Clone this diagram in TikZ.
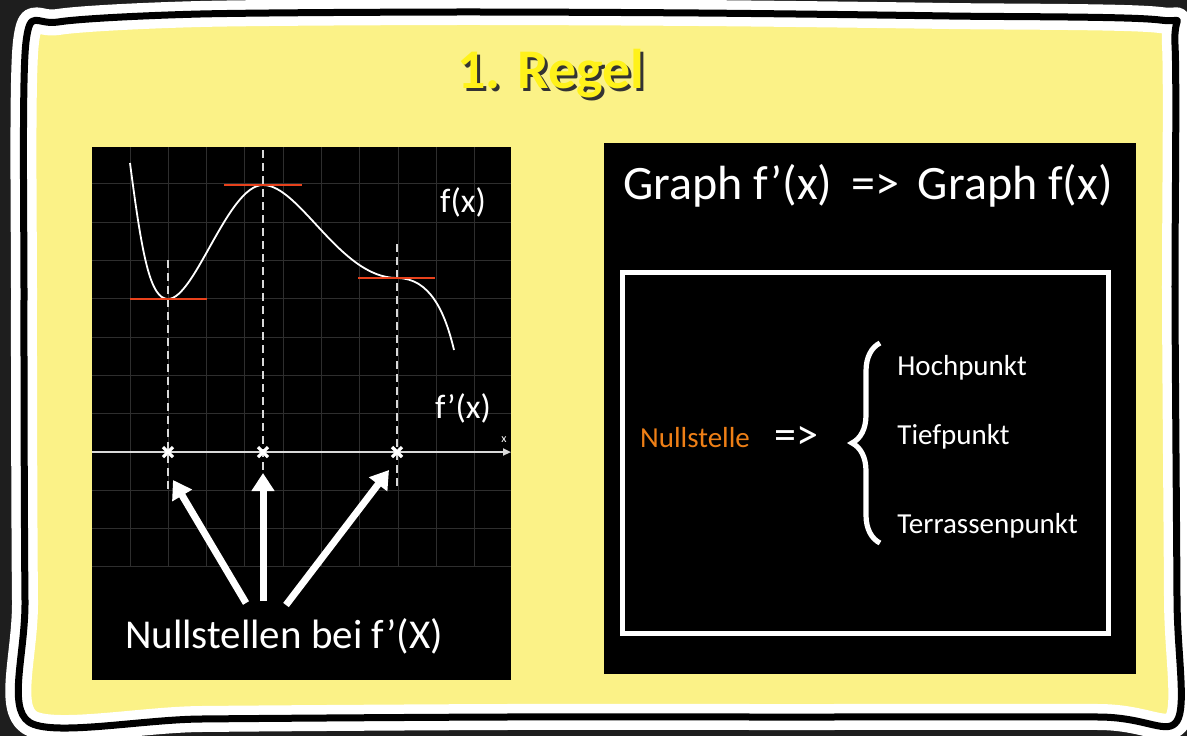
\documentclass[tikz,border=0pt]{standalone}
\usepackage{fontspec}
\setmainfont{Carlito}
\usetikzlibrary{arrows.meta,positioning,decorations.pathreplacing,calc}
\usepackage{xcolor}
\definecolor{paper}{HTML}{FBF287}
\definecolor{outside}{HTML}{1E1E1E}
\definecolor{titleyel}{HTML}{FFF21A}
\definecolor{tangred}{HTML}{E8421C}
\definecolor{nullorange}{HTML}{EE7F16}
\definecolor{gridgray}{HTML}{2E2E2E}
\tikzset{
  chalk/.style={text=white, inner sep=0pt},
  bigtext/.style={chalk, font=\fontsize{24}{28}\selectfont},
  labeltext/.style={chalk, font=\fontsize{20.5}{24}\selectfont},
  functext/.style={chalk, font=\fontsize{17}{20}\selectfont},
  listtext/.style={chalk, font=\fontsize{14.5}{17}\selectfont, anchor=west},
  gridline/.style={draw=gridgray, line width=0.5pt},
  tangent/.style={draw=tangred, line width=1.4pt},
  guide/.style={draw=white!85!black, line width=0.8pt, dash pattern=on 4pt off 2.5pt},
  cross/.style={draw=white, line width=1.6pt},
  pointer/.style={-{Triangle[length=9pt,width=11pt]}, draw=white, line width=3.5pt},
  axis/.style={-{Triangle[length=4pt,width=3.5pt]}, draw=white!85!black, line width=1pt}
}

\begin{document}
\begin{tikzpicture}[x=0.5pt, y=-0.5pt]
  \useasboundingbox (0,0) rectangle (1187,736);
  \fill[outside] (0,0) rectangle (1187,736);

  % sketchy frame
  \def\framepath{plot[smooth cycle, tension=0.45] coordinates {(26,42) (58,22) (200,14) (450,12) (700,13) (950,16) (1160,20) (1175,45) (1175,300) (1177,600) (1177,721) (1100,717) (800,717) (500,717) (200,719) (29,722) (25,600) (24,300)}}
  \fill[paper] \framepath;
  \draw[white, line width=13pt, line join=round] \framepath;
  \draw[black, line width=3.5pt, line join=round] \framepath;

  % title
  \node[font=\fontsize{28}{32}\selectfont\bfseries, text=black!80, inner sep=0pt] (titleshadow) at (554,77) {1. Regel};
  \node[font=\fontsize{28}{32}\selectfont\bfseries, text=titleyel, inner sep=0pt] (title) at (551,74) {1. Regel};

  % left board with graph
  \fill[black] (92,147) rectangle (511,680);
  \foreach \gx in {0,...,9}
    \draw[gridline] ({130+38.3*\gx},147) -- ({130+38.3*\gx},567);
  \foreach \gy in {-3,...,7}
    \draw[gridline] (92,{452-38.3*\gy}) -- (511,{452-38.3*\gy});

  \coordinate (z1) at (168,452);
  \coordinate (z2) at (263,452);
  \coordinate (z3) at (397,452);

  \draw[guide] (168,260) -- (168,490);
  \draw[guide] (263,150) -- (263,490);
  \draw[guide] (397,244) -- (397,490);

  \draw[white, line width=0.9pt] (130,163) .. controls (142,255) and (150,299) .. (168,299)
    .. controls (195,299) and (228,185) .. (263,185)
    .. controls (300,185) and (340,278) .. (397,278)
    .. controls (430,278) and (445,312) .. (454,350);

  \draw[tangent] (130,299) -- (207,299);
  \draw[tangent] (224,185) -- (302,185);
  \draw[tangent] (358,278) -- (435,278);

  \draw[axis] (92,452) -- (511,452);
  \node[chalk, font=\fontsize{6}{7}\selectfont] (xlab) at (504,440) {x};

  \foreach \z in {z1,z2,z3}
    \draw[cross] ($(\z)+(-5,-5)$) -- ($(\z)+(5,5)$) ($(\z)+(-5,5)$) -- ($(\z)+(5,-5)$);

  \node[functext] (fx) at (463,202) {f(x)};
  \node[functext] (dfx) at (463,408) {f'(x)};

  \node[labeltext] (nst) at (284,636) {Nullstellen bei f'(X)};
  \coordinate (t1) at (246,603);
  \coordinate (t2) at (263,601);
  \coordinate (t3) at (286,605);
  \draw[pointer] (t1) -- ($(z1)+(5,28)$);
  \draw[pointer] (t2) -- ($(z2)+(0,21)$);
  \draw[pointer] (t3) -- ($(z3)+(-8,18)$);

  % right board
  \fill[black] (604,143) rectangle (1136,674);
  \node[bigtext] (rule) at (868,186) {Graph f'(x) \,=> \,Graph f(x)};
  \draw[white, line width=2.5pt] (622,272) rectangle (1108,633);

  \node[chalk, font=\fontsize{14.5}{17}\selectfont, text=nullorange] (null) at (695,438) {Nullstelle};
  \node[chalk, font=\fontsize{22}{24}\selectfont] (impl) at (796,438) {=>};
  \draw[white, line width=2.6pt, decorate, decoration={brace, amplitude=14pt}] (880,543) -- (880,343);
  \node[listtext] (hoch) at (897,368) {Hochpunkt};
  \node[listtext] (tief) at (897,437) {Tiefpunkt};
  \node[listtext] (terr) at (897,526) {Terrassenpunkt};
\end{tikzpicture}
\end{document}
